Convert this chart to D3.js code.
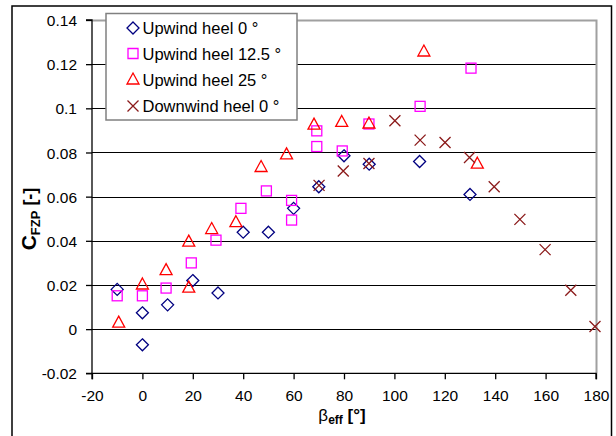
<!DOCTYPE html>
<html><head><meta charset="utf-8">
<script src="https://cdn.jsdelivr.net/npm/d3@7"></script>
<style>body{margin:0;background:#fff}svg{display:block}text{font-family:"Liberation Sans",Arial,sans-serif}</style>
</head><body><svg id="c" width="616" height="436"></svg>
<script>
const xTicks = [-20,0,20,40,60,80,100,120,140,160,180];
const xTickLabels = ["-20","0","20","40","60","80","100","120","140","160","180"];
const yTicks = [-0.02,0,0.02,0.04,0.06,0.08,0.1,0.12,0.14];
const yTickLabels = ["-0.02","0","0.02","0.04","0.06","0.08","0.1","0.12","0.14"];
const seriesNames = ["Upwind heel 0°","Upwind heel 12.5°","Upwind heel 25°","Downwind heel 0°"];

const up0X = [-10,0,0,10,20,30,40,50,60,70,80,90,110,130];
const up0Y = [0.018,0.0074,-0.0071,0.011,0.022,0.0164,0.0439,0.0439,0.0547,0.0645,0.0785,0.0747,0.0759,0.0610];

const up12X = [-10,0,9.4,19.4,29.2,39.1,49.2,59.2,59.2,69.2,69.2,79.3,89.9,110.2,130.4];
const up12Y = [0.0151,0.0151,0.0186,0.030,0.0403,0.0547,0.0626,0.0583,0.0494,0.0898,0.0827,0.0807,0.0929,0.1009,0.1182];

const up25X = [-9.4,0,9.4,18.4,18.4,27.5,37.1,47.1,57.2,68.1,79.1,89.9,111.7,132.9];
const up25Y = [0.0027,0.020,0.0265,0.0394,0.0186,0.0451,0.0482,0.0732,0.0789,0.0924,0.0936,0.0929,0.1255,0.0747];

const downX = [70.1,79.7,89.9,100.2,110.2,120.1,129.8,139.6,149.8,159.8,170,179.6];
const downY = [0.0651,0.0716,0.075,0.0944,0.0856,0.0845,0.0777,0.0645,0.0497,0.036,0.0176,0.0012];

const svg = d3.select("#c");
const L=92,R=596,T=20,B=373.3;
const x = d3.scaleLinear().domain([-20,180]).range([L,R]);
const y = d3.scaleLinear().domain([-0.02,0.14]).range([B,T]);

// outer frame
svg.append("rect").attr("x",12).attr("y",6).attr("width",599.5).attr("height",440)
  .attr("fill","none").attr("stroke","#000").attr("stroke-width",1.5);

// gridlines
svg.append("g").selectAll("line").data(yTicks.filter(v=>v>-0.02 && v<0.14)).join("line")
  .attr("x1",L).attr("x2",R).attr("y1",d=>Math.round(y(d))+0.5).attr("y2",d=>Math.round(y(d))+0.5)
  .attr("stroke","#000").attr("stroke-width",1);
// plot border top/right gray
svg.append("path").attr("d",`M${L},${T+0.5}H${R+0.5}V${B}`).attr("fill","none")
  .attr("stroke","#a0a0a0").attr("stroke-width",2);

// axes
const yAxis = d3.axisLeft(y).tickValues(yTicks).tickSize(6).tickPadding(9)
  .tickFormat((d,i)=>yTickLabels[i]);
const gy = svg.append("g").attr("transform",`translate(${L},0)`).call(yAxis);
const xAxis = d3.axisBottom(x).tickValues(xTicks).tickSize(6).tickPadding(11)
  .tickFormat((d,i)=>xTickLabels[i]);
const gx = svg.append("g").attr("transform",`translate(0,${B})`).call(xAxis);
[gx,gy].forEach(g=>{
  g.select(".domain").attr("stroke","#000").attr("stroke-width",1.3);
  g.selectAll(".tick line").attr("stroke","#000").attr("stroke-width",1.3);
  g.selectAll(".tick text").attr("fill","#000").attr("font-size",15.5)
    .attr("font-family","Liberation Sans, Arial, sans-serif");
});
gy.select(".domain").attr("d",`M-6,${y(0.14)}H0V${B}H-6`);
gx.select(".domain").attr("d",`M${L},6V0H${R}V6`);
gy.selectAll(".tick text").attr("dy","0.36em");

// markers
const g = svg.append("g");
const sw = 1.3;
g.selectAll(".dia").data(d3.zip(up0X,up0Y)).join("path")
  .attr("d",d=>{const cx=x(d[0]),cy=y(d[1]),r=6;return `M${cx},${cy-r}L${cx+r},${cy}L${cx},${cy+r}L${cx-r},${cy}Z`;})
  .attr("fill","none").attr("stroke","#000080").attr("stroke-width",sw);
g.selectAll(".sq").data(d3.zip(up12X,up12Y)).join("rect")
  .attr("x",d=>x(d[0])-5).attr("y",d=>y(d[1])-5).attr("width",10).attr("height",10)
  .attr("fill","none").attr("stroke","#ff00ff").attr("stroke-width",sw);
g.selectAll(".tri").data(d3.zip(up25X,up25Y)).join("path")
  .attr("d",d=>{const cx=x(d[0]),cy=y(d[1]);return `M${cx},${cy-7}L${cx+6},${cy+4}L${cx-6},${cy+4}Z`;})
  .attr("fill","none").attr("stroke","#ff0000").attr("stroke-width",sw);
g.selectAll(".xx").data(d3.zip(downX,downY)).join("path")
  .attr("d",d=>{const cx=x(d[0]),cy=y(d[1]),r=5.5;return `M${cx-r},${cy-r}L${cx+r},${cy+r}M${cx+r},${cy-r}L${cx-r},${cy+r}`;})
  .attr("fill","none").attr("stroke","#8b1a1a").attr("stroke-width",sw);

// legend
const lg = svg.append("g");
lg.append("rect").attr("x",106).attr("y",13.5).attr("width",191).attr("height",106.5)
  .attr("fill","#fff").attr("stroke","#808080").attr("stroke-width",1.5);
const rows=[28,53.5,80,106];
const mk=[
  (cx,cy)=>`M${cx},${cy-6}L${cx+6},${cy}L${cx},${cy+6}L${cx-6},${cy}Z`,
  (cx,cy)=>`M${cx-5},${cy-5}H${cx+5}V${cy+5}H${cx-5}Z`,
  (cx,cy)=>`M${cx},${cy-7}L${cx+6},${cy+4}L${cx-6},${cy+4}Z`,
  (cx,cy)=>`M${cx-5.5},${cy-5.5}L${cx+5.5},${cy+5.5}M${cx+5.5},${cy-5.5}L${cx-5.5},${cy+5.5}`
];
const cols=["#000080","#ff00ff","#ff0000","#8b1a1a"];
seriesNames.forEach((n,i)=>{
  lg.append("path").attr("d",mk[i](133,rows[i])).attr("fill","none").attr("stroke",cols[i]).attr("stroke-width",sw);
  lg.append("text").attr("x",142.5).attr("y",rows[i]+6).attr("font-size",16.5).attr("fill","#000")
    .text(n.replace("°"," °"));
});

// y title
const yt = svg.append("text").attr("transform","translate(36,219) rotate(-90)").attr("text-anchor","middle")
  .attr("font-weight","bold").attr("fill","#000");
yt.append("tspan").attr("font-size",21).text("C");
yt.append("tspan").attr("font-size",13).attr("dy",4).text("FZP");
yt.append("tspan").attr("font-size",18).attr("dy",-4).text(" [-]");

// x title
const xt = svg.append("text").attr("x",342).attr("y",421).attr("text-anchor","middle").attr("fill","#000");
xt.append("tspan").attr("font-size",17).text("β");
xt.append("tspan").attr("font-size",12).attr("font-weight","bold").attr("dy",3).text("eff");
xt.append("tspan").attr("font-size",17).attr("font-weight","bold").attr("dy",-3).text(" [°]");
</script></body></html>
